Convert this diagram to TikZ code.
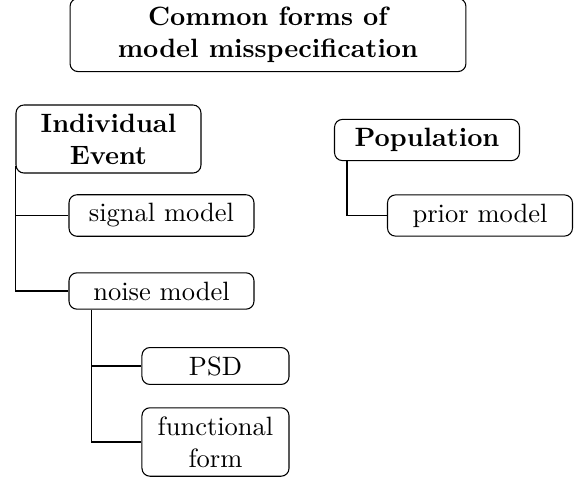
\documentclass[tikz,border=0pt]{standalone}
\usepackage{tikz}
\tikzset{
    box/.style={
        draw, rounded corners=3pt, align=center, minimum width=#1
    },
    box/.default=69.8pt
}

\begin{document}
\begin{tikzpicture}[x=0.3774pt,y=-0.3774pt]
		\useasboundingbox (0,0) rectangle (579,479);
		
		% Title
		\node [box=149.4pt, font=\bfseries] (title) at (268,35) {Common forms of\\model misspecification};
		
		% Individual event
		\node [box, font=\bfseries] (ie) at (108.5,139) {Individual\\Event};
		\node [box] (sig) at (161.5,215.5) {signal model};
		\node [box] (noise) at (161.5,291) {noise model};
		\coordinate (ieroot) at ([yshift=3pt]ie.south west);
		\draw (ieroot) |- (sig.west) (ieroot) |- (noise.west);
		
		% Noise model
		\node [box=55.5pt] (psd) at (215.5,366) {PSD};
		\node [box=55.5pt] (ff) at (215.5,442) {functional\\form};
		\coordinate (noiseroot) at ([xshift=8.7pt]noise.south west);
		\draw (noiseroot) |- (psd.west) (noiseroot) |- (ff.west);
		
		% Population
		\node [box, font=\bfseries] (pop) at (427,140) {Population};
		\node [box] (prior) at (480,215.5) {prior model};
		\coordinate (poproot) at ([xshift=4.9pt]pop.south west);
		\draw (poproot) |- (prior.west);
		
	\end{tikzpicture}
\end{document}
